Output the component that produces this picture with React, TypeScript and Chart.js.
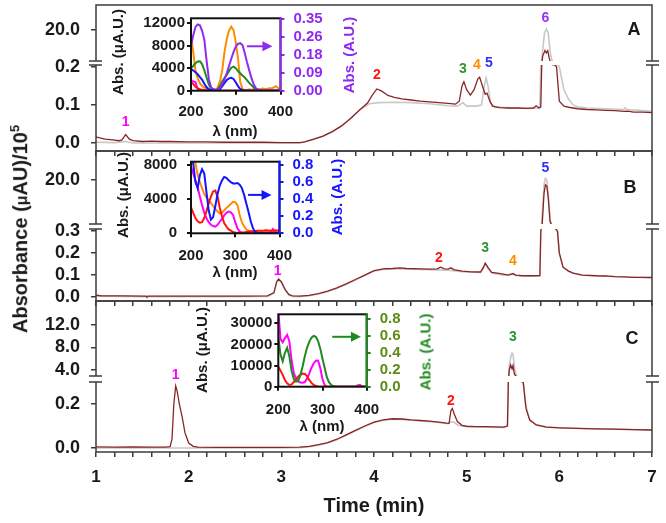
import React, { useEffect, useRef } from 'react';
import { Chart, registerables, LinearScale } from 'chart.js';

Chart.register(...registerables);

const W = 666, H = 523;
const FONT = '"Liberation Sans", Arial, Helvetica, sans-serif';
const BROWN = '#8b2525';
const GRAY = '#c8c8c8';
const FRAME = '#3c3c3c';
const INK = '#1a1a1a';
const MAGENTA = '#ff00ff', RED = '#ff1414', GREEN = '#2e962e', ORANGE = '#ff8c00', BLUE = '#2f2fff', PURPLE = '#9433ff';
const IN_GREEN = '#1f8a1f', IN_BLUE = '#1414ff', IN_PURPLE = '#8f2bef', C_TICK = '#5c8c14';

// ---------- chromatograms: [time (min), absorbance] ----------
const brownA: [number, number][] = [
  [1.00,0.016],[1.05,0.013],[1.10,0.010],[1.18,0.008],[1.25,0.006],[1.28,0.008],[1.32,0.022],[1.36,0.010],[1.40,0.006],
  [1.50,0.004],[1.60,0.005],[1.70,0.004],[1.80,0.004],[2.00,0.003],[2.20,0.003],[2.40,0.002],[2.60,0.002],[2.80,0.002],
  [3.00,0.001],[3.20,0.001],[3.25,0.003],[3.35,0.010],[3.45,0.018],[3.55,0.030],[3.65,0.045],[3.75,0.065],[3.85,0.088],
  [3.93,0.105],[3.98,0.125],[4.03,0.142],[4.08,0.137],[4.15,0.125],[4.22,0.120],[4.30,0.116],[4.40,0.113],[4.50,0.110],
  [4.60,0.108],[4.70,0.106],[4.80,0.104],[4.88,0.102],[4.92,0.110],[4.95,0.150],[4.97,0.161],[5.00,0.140],[5.04,0.126],
  [5.08,0.140],[5.12,0.168],[5.14,0.173],[5.17,0.150],[5.20,0.128],[5.22,0.131],[5.25,0.110],[5.28,0.097],[5.35,0.093],
  [5.45,0.092],[5.55,0.092],[5.65,0.091],[5.72,0.092],[5.75,0.098],[5.78,0.092],[5.80,0.095],[5.81,1.0],[5.82,11.5],
  [5.845,13.4],[5.86,12.6],[5.875,13.3],[5.89,11.0],[5.91,3.0],[5.93,0.8],[5.95,0.35],[5.97,0.2],[6.00,0.11],[6.05,0.097],
  [6.10,0.094],[6.20,0.090],[6.30,0.088],[6.40,0.087],[6.50,0.086],[6.60,0.085],[6.70,0.083],[6.74,0.084],[6.80,0.081],
  [6.90,0.081],[7.00,0.080],
];
const grayA: [number, number][] = [
  [1.00,0.002],[1.20,0.001],[1.32,0.004],[1.40,0.0],[1.60,0.0],[2.00,0.0],[2.40,0.0],[2.80,0.0],[3.20,0.0],[3.30,0.006],
  [3.45,0.018],[3.55,0.030],[3.65,0.045],[3.75,0.065],[3.85,0.088],[3.95,0.103],[4.05,0.106],[4.20,0.107],[4.40,0.106],
  [4.60,0.103],[4.80,0.098],[4.90,0.097],[4.96,0.106],[5.00,0.097],[5.10,0.097],[5.16,0.100],[5.19,0.150],[5.21,0.171],
  [5.23,0.150],[5.26,0.105],[5.30,0.095],[5.50,0.092],[5.70,0.091],[5.79,0.092],[5.80,0.2],[5.815,12],[5.84,19],
  [5.86,20.3],[5.88,19],[5.905,12],[5.93,4],[5.96,1],[5.99,0.3],[6.00,0.2],[6.05,0.14],[6.10,0.115],[6.15,0.100],
  [6.20,0.095],[6.30,0.092],[6.50,0.090],[6.70,0.088],[6.71,0.093],[6.73,0.088],[6.90,0.085],[7.00,0.083],
];
const brownB: [number, number][] = [
  [1.00,0.009],[1.05,0.006],[1.10,0.005],[1.30,0.005],[1.50,0.004],[1.54,0.004],[1.55,0.0],[1.56,0.004],[1.70,0.004],
  [1.90,0.004],[2.20,0.004],[2.50,0.004],[2.60,0.004],[2.85,0.005],[2.92,0.020],[2.95,0.070],[2.97,0.082],[3.00,0.070],
  [3.04,0.035],[3.08,0.012],[3.12,0.005],[3.20,0.004],[3.30,0.008],[3.40,0.016],[3.50,0.027],[3.60,0.042],[3.70,0.060],
  [3.80,0.080],[3.90,0.100],[4.00,0.120],[4.10,0.128],[4.20,0.130],[4.28,0.133],[4.35,0.130],[4.50,0.128],[4.60,0.127],
  [4.68,0.128],[4.72,0.136],[4.76,0.128],[4.80,0.127],[4.83,0.133],[4.86,0.125],[4.95,0.118],[5.05,0.115],[5.15,0.114],
  [5.18,0.135],[5.20,0.155],[5.23,0.135],[5.27,0.112],[5.35,0.108],[5.45,0.100],[5.50,0.107],[5.53,0.100],[5.60,0.097],
  [5.70,0.097],[5.79,0.098],[5.80,0.3],[5.815,10],[5.835,17],[5.85,18.9],[5.865,18.6],[5.88,16],[5.90,10.5],[5.93,3],
  [5.96,0.8],[5.98,0.3],[6.00,0.2],[6.04,0.136],[6.10,0.118],[6.15,0.109],[6.25,0.100],[6.40,0.097],[6.50,0.096],
  [6.60,0.093],[6.70,0.092],[6.80,0.090],[6.90,0.090],[7.00,0.089],
];
const grayB: [number, number][] = [
  [1.00,0.004],[1.50,0.002],[2.00,0.002],[2.50,0.002],[2.85,0.003],[2.92,0.018],[2.95,0.068],[2.97,0.080],[3.00,0.068],
  [3.04,0.033],[3.08,0.010],[3.12,0.003],[3.20,0.002],[3.30,0.006],[3.40,0.014],[3.50,0.025],[3.60,0.040],[3.70,0.058],
  [3.80,0.078],[3.90,0.098],[4.00,0.118],[4.10,0.126],[4.20,0.128],[4.35,0.128],[4.50,0.126],[4.70,0.124],[4.80,0.122],
  [4.95,0.116],[5.05,0.113],[5.15,0.112],[5.18,0.130],[5.20,0.150],[5.23,0.130],[5.27,0.110],[5.40,0.100],[5.50,0.104],
  [5.53,0.098],[5.70,0.095],[5.79,0.096],[5.80,0.3],[5.815,12],[5.835,19],[5.85,20.4],[5.865,20],[5.88,17],[5.90,11],
  [5.93,3],[5.96,0.8],[5.98,0.3],[6.00,0.2],[6.04,0.135],[6.10,0.117],[6.15,0.108],[6.25,0.099],[6.50,0.095],
  [6.70,0.091],[7.00,0.088],
];
const brownC: [number, number][] = [
  [1.00,0.005],[1.20,0.004],[1.40,0.005],[1.60,0.004],[1.75,0.004],[1.80,0.006],[1.82,0.040],[1.84,0.200],[1.86,0.282],
  [1.875,0.260],[1.90,0.200],[1.93,0.140],[1.96,0.070],[2.00,0.023],[2.05,0.008],[2.10,0.004],[2.30,0.003],[2.50,0.003],
  [2.80,0.003],[3.00,0.003],[3.20,0.004],[3.30,0.008],[3.40,0.015],[3.50,0.025],[3.60,0.040],[3.70,0.060],[3.80,0.080],
  [3.90,0.100],[4.00,0.118],[4.10,0.128],[4.20,0.133],[4.30,0.132],[4.40,0.128],[4.50,0.125],[4.60,0.122],[4.70,0.118],
  [4.78,0.113],[4.81,0.112],[4.83,0.170],[4.845,0.180],[4.87,0.150],[4.90,0.120],[4.95,0.103],[5.00,0.099],[5.10,0.097],
  [5.20,0.097],[5.30,0.096],[5.40,0.095],[5.44,0.100],[5.45,0.3],[5.46,4],[5.475,4.9],[5.49,4.2],[5.50,4.8],[5.515,3.3],
  [5.55,1.5],[5.58,0.6],[5.61,0.3],[5.64,0.18],[5.68,0.127],[5.75,0.105],[5.86,0.095],[6.00,0.092],[6.20,0.089],
  [6.40,0.087],[6.58,0.086],[6.80,0.084],[7.00,0.082],
];
const grayC: [number, number][] = [
  [1.00,0.0],[2.00,0.0],[3.00,0.0],[3.20,0.002],[3.30,0.006],[3.40,0.013],[3.50,0.023],[3.60,0.038],[3.70,0.058],
  [3.80,0.078],[3.90,0.098],[4.00,0.116],[4.10,0.126],[4.20,0.131],[4.30,0.130],[4.40,0.126],[4.50,0.123],[4.60,0.120],
  [4.70,0.116],[4.80,0.111],[4.83,0.120],[4.86,0.118],[4.90,0.105],[4.95,0.100],[5.00,0.097],[5.20,0.095],[5.40,0.094],
  [5.44,0.100],[5.45,0.3],[5.46,5],[5.48,6.6],[5.49,7.0],[5.50,6.8],[5.52,4],[5.55,1.8],[5.58,0.7],[5.61,0.32],
  [5.64,0.19],[5.68,0.13],[5.75,0.106],[5.86,0.096],[6.00,0.092],[6.20,0.089],[6.60,0.086],[7.00,0.082],
];

const yTicksA = [0, 0.1, 0.2, 20];
const yTicksB = [0, 0.1, 0.2, 0.3, 20];
const yTicksC = [0, 0.2, 4, 8, 12];
const timeLabels = [1, 2, 3, 4, 5, 6, 7];

// peak number annotations: anchored on the peak (time, value), offset upward
const peaksA = [
  { t: 1.32, v: 0.022, dy: -12, text: '1', color: MAGENTA },
  { t: 4.03, v: 0.142, dy: -14, text: '2', color: RED },
  { t: 4.96, v: 0.161, dy: -13, text: '3', color: GREEN },
  { t: 5.11, v: 0.173, dy: -12, text: '4', color: ORANGE },
  { t: 5.24, v: 0.171, dy: -15, text: '5', color: BLUE },
  { t: 5.85, v: 20, dy: -12, text: '6', color: PURPLE },
];
const peaksB = [
  { t: 2.96, v: 0.082, dy: -8, text: '1', color: MAGENTA },
  { t: 4.70, v: 0.136, dy: -9, text: '2', color: RED },
  { t: 5.20, v: 0.155, dy: -15, text: '3', color: GREEN },
  { t: 5.50, v: 0.107, dy: -12, text: '4', color: ORANGE },
  { t: 5.85, v: 20, dy: -12, text: '5', color: BLUE },
];
const peaksC = [
  { t: 1.86, v: 0.282, dy: -11, text: '1', color: MAGENTA },
  { t: 4.83, v: 0.18, dy: -7, text: '2', color: RED },
  { t: 5.50, v: 7.0, dy: -16, text: '3', color: GREEN },
];

// ---------- UV spectra (insets) ----------
const lambda = [200,205,210,215,220,225,230,235,240,245,250,255,260,265,270,275,280,285,290,295,300,
  305,310,315,320,325,330,335,340,345,350,355,360,365,370,375,380,385,390,395,400];

const orangeA = [9600,6900,3600,2200,1300,850,550,300,150,60,50,150,600,1800,3700,7000,9200,10700,11400,10800,8700,
  5800,1600,300,100,150,250,150,300,200,300,250,400,300,350,450,400,600,800,450,300];
const greenA = [4000,4400,4900,5200,5250,4700,3600,2300,1100,400,150,100,300,900,1700,2300,2800,3500,4100,4300,4000,
  3500,3100,2700,2350,1900,1400,1000,600,250,80,30,0,0,0,0,0,0,0,0,0];
const blueA = [3860,3600,3300,2900,2400,1950,1200,600,250,80,0,0,50,300,800,1400,1900,2200,2300,2100,1500,
  800,300,100,30,0,0,0,0,0,0,0,0,0,0,0,0,0,0,0,0];
const redA = [1500,1200,700,400,250,150,100,60,40,30,20,20,0,0,0,0,0,0,0,0,0,
  0,0,0,0,0,0,0,0,0,0,0,0,0,0,0,0,0,0,0,0];
const magentaA = [1700,1700,1500,300,80,0,0,0,0,0,0,0,0,0,0,0,0,0,0,0,0,
  0,0,0,0,0,0,0,0,0,0,0,0,0,0,0,0,0,0,0,0];
const purpleA = [0.214,0.27,0.31,0.322,0.318,0.29,0.245,0.143,0.055,0.015,0.008,0.005,0.005,0.015,0.032,0.055,0.086,0.12,0.155,0.188,0.214,
  0.228,0.231,0.222,0.185,0.14,0.1,0.062,0.032,0.012,0.005,0,0,0,0,0,0,0,0,0,0];

const blueB = [0.84,0.82,0.6,0.53,0.68,0.75,0.7,0.48,0.27,0.16,0.19,0.32,0.46,0.56,0.62,0.66,0.65,0.62,0.6,0.585,0.585,
  0.59,0.57,0.53,0.45,0.35,0.25,0.14,0.06,0.015,0.005,0,0,0,0,0,0,0,0,0,0];
const orangeB = [9000,8800,8200,6900,6000,5300,4600,4200,3850,3550,3200,2850,2550,2340,2400,2700,2950,3200,3450,3700,3650,
  3300,2150,1300,800,470,300,200,200,220,250,230,250,240,260,250,270,300,260,250,250];
const magentaB = [7800,7000,6200,5400,4300,3300,2400,1750,1300,1000,850,780,1000,1350,1700,2100,2400,2550,2450,2150,1300,
  600,200,50,0,0,0,0,0,0,0,0,0,0,0,0,150,500,100,0,0];
const redB = [3040,2400,1800,1400,1250,1300,1800,2600,3500,4300,4900,5000,4300,3000,2000,1200,800,450,300,150,80,
  50,50,80,100,150,200,230,250,270,300,300,300,320,350,330,300,320,350,330,300];

const greenC = [0.59,0.38,0.3,0.4,0.46,0.36,0.19,0.09,0.06,0.067,0.14,0.24,0.36,0.46,0.53,0.58,0.6,0.59,0.54,0.45,0.33,
  0.22,0.11,0.05,0.02,0.005,0,0,0,0,0,0,0,0,0,0,0,0,0,0,0];
const magentaC = [36000,22500,21000,23000,24500,21500,12500,6500,3800,2500,2000,1900,2200,3800,6200,9000,11000,12300,12400,8800,3500,
  800,100,0,0,0,0,0,0,0,0,0,0,0,0,0,700,800,100,0,0];
const redC = [9500,7600,5600,3200,1600,800,1100,2200,3600,4800,5600,6200,6000,5000,3200,1800,900,350,100,0,0,
  0,0,0,0,0,0,0,0,0,0,0,0,0,0,0,0,400,0,0,0];

const insetXTicks = [200, 300, 400];
const leftTicksA = [0, 4000, 8000, 12000];
const leftTicksB = [0, 4000, 8000];
const leftTicksC = [0, 10000, 20000, 30000];
const rightTicksA = [0, 0.0875, 0.175, 0.2625, 0.35];
const rightLabelsA = ['0.00', '0.09', '0.18', '0.26', '0.35'];
const rightTicksBC = [0, 0.2, 0.4, 0.6, 0.8];

// ---------- broken (two-segment) y scale ----------
type Brk = { lowMin: number; lowMax: number; highMin: number; highMax: number; lowPx: number; gapPx: number };

function makeBrokenScale(id: string, b: Brk) {
  const Cls: any = class extends (LinearScale as any) {
    getPixelForValue(v: any) {
      if (v === null || v === undefined || Number.isNaN(v)) return NaN;
      const self: any = this;
      const bottom = self.bottom, top = self.top;
      const lowTop = bottom - b.lowPx;
      const highBot = lowTop - b.gapPx;
      if (v <= b.lowMax) return bottom - ((v - b.lowMin) / (b.lowMax - b.lowMin)) * b.lowPx;
      if (v >= b.highMin) return highBot - ((v - b.highMin) / (b.highMax - b.highMin)) * (highBot - top);
      return lowTop - ((v - b.lowMax) / (b.highMin - b.lowMax)) * b.gapPx;
    }
    getValueForPixel(p: number) {
      const self: any = this;
      const bottom = self.bottom, top = self.top;
      const lowTop = bottom - b.lowPx;
      const highBot = lowTop - b.gapPx;
      if (p >= lowTop) return b.lowMin + ((bottom - p) / b.lowPx) * (b.lowMax - b.lowMin);
      if (p <= highBot) return b.highMin + ((highBot - p) / (highBot - top)) * (b.highMax - b.highMin);
      return b.lowMax + ((lowTop - p) / b.gapPx) * (b.highMin - b.lowMax);
    }
  };
  Cls.id = id;
  Cls.defaults = {};
  return Cls;
}

const brkA: Brk = { lowMin: -0.021, lowMax: 0.205, highMin: 10, highMax: 28, lowPx: 86, gapPx: 4 };
const brkB: Brk = { lowMin: -0.018, lowMax: 0.31, highMin: 10, highMax: 26.6, lowPx: 72, gapPx: 5 };
const brkC: Brk = { lowMin: -0.018, lowMax: 0.30, highMin: 2.93, highMax: 16.27, lowPx: 70, gapPx: 6 };

Chart.register(makeBrokenScale('brokenA', brkA), makeBrokenScale('brokenB', brkB), makeBrokenScale('brokenC', brkC));

const xy = (pairs: [number, number][]) => pairs.map(([x, y]) => ({ x, y }));
const xyL = (vals: number[]) => vals.map((y, i) => ({ x: lambda[i], y }));

function framePlugin(brk: Brk) {
  return {
    id: 'frame',
    afterDraw(chart: any) {
      const { ctx, chartArea: a } = chart;
      const ys = chart.scales.y;
      ctx.save();
      ctx.strokeStyle = FRAME;
      ctx.lineWidth = 1.5;
      ctx.strokeRect(a.left, a.top, a.right - a.left, a.bottom - a.top);
      const gBot = ys.getPixelForValue(brk.lowMax);
      const gTop = ys.getPixelForValue(brk.highMin);
      ctx.clearRect(a.left - 8, gTop, a.right - a.left + 16, gBot - gTop);
      ctx.beginPath();
      for (const y of [gTop, gBot]) {
        ctx.moveTo(a.left - 7, y); ctx.lineTo(a.left + 6, y);
        ctx.moveTo(a.right - 6, y); ctx.lineTo(a.right + 7, y);
      }
      ctx.stroke();
      ctx.restore();
    },
  };
}

function peakPlugin(labels: { t: number; v: number; dy: number; text: string; color: string }[]) {
  return {
    id: 'peaks',
    afterDraw(chart: any) {
      const { ctx } = chart;
      ctx.save();
      ctx.font = `bold 14px ${FONT}`;
      ctx.textAlign = 'center';
      ctx.textBaseline = 'middle';
      for (const l of labels) {
        const x = chart.scales.x.getPixelForValue(l.t);
        const y = chart.scales.y.getPixelForValue(l.v) + l.dy;
        ctx.fillStyle = l.color;
        ctx.fillText(l.text, x, y);
      }
      ctx.restore();
    },
  };
}

function insetFramePlugin(color: string, arrow: { from: number; to: number; v: number }) {
  return {
    id: 'insetFrame',
    afterDraw(chart: any) {
      const { ctx, chartArea: a } = chart;
      ctx.save();
      ctx.lineWidth = 2;
      ctx.strokeStyle = '#111';
      ctx.strokeRect(a.left, a.top, a.right - a.left, a.bottom - a.top);
      ctx.strokeStyle = color;
      ctx.beginPath();
      ctx.moveTo(a.right, a.top - 1);
      ctx.lineTo(a.right, a.bottom + 1);
      ctx.stroke();
      const x1 = chart.scales.x.getPixelForValue(arrow.from);
      const x2 = chart.scales.x.getPixelForValue(arrow.to);
      const y = chart.scales.y2.getPixelForValue(arrow.v);
      ctx.beginPath();
      ctx.moveTo(x1, y);
      ctx.lineTo(x2 - 8, y);
      ctx.stroke();
      ctx.fillStyle = color;
      ctx.beginPath();
      ctx.moveTo(x2, y);
      ctx.lineTo(x2 - 10, y - 5);
      ctx.lineTo(x2 - 10, y + 5);
      ctx.closePath();
      ctx.fill();
      ctx.restore();
    },
  };
}

const baseOpts = {
  animation: false,
  responsive: false,
  maintainAspectRatio: false,
  devicePixelRatio: 1,
  events: [],
  plugins: { legend: { display: false }, tooltip: { enabled: false } },
};

type Panel = {
  typeId: string; brk: Brk; brown: [number, number][]; gray: [number, number][]; yTicks: number[];
  labels: any[]; top: number; bottom: number; xh: number; showX: boolean;
};

const panels: Panel[] = [
  { typeId: 'brokenA', brk: brkA, brown: brownA, gray: grayA, yTicks: yTicksA, labels: peaksA, top: 5, bottom: 151, xh: 10, showX: false },
  { typeId: 'brokenB', brk: brkB, brown: brownB, gray: grayB, yTicks: yTicksB, labels: peaksB, top: 151, bottom: 301, xh: 10, showX: false },
  { typeId: 'brokenC', brk: brkC, brown: brownC, gray: grayC, yTicks: yTicksC, labels: peaksC, top: 301, bottom: 452, xh: 34, showX: true },
];

function panelConfig(p: Panel): any {
  const xTicks: number[] = [];
  for (let i = 0; i <= 30; i++) xTicks.push(Math.round((1 + i * 0.2) * 10) / 10);
  return {
    type: 'line',
    data: {
      datasets: [
        { data: xy(p.brown), borderColor: BROWN, borderWidth: 1.3, pointRadius: 0, tension: 0, fill: false },
        { data: xy(p.gray), borderColor: GRAY, borderWidth: 1.6, pointRadius: 0, tension: 0, fill: false },
      ],
    },
    options: {
      ...baseOpts,
      layout: { padding: { left: 0, right: 14, top: p.top, bottom: H - p.bottom - p.xh } },
      scales: {
        x: {
          type: 'linear', min: 1, max: 7, position: 'bottom',
          afterBuildTicks: (s: any) => { s.ticks = xTicks.map((v) => ({ value: v })); },
          afterFit: (s: any) => { s.height = p.xh; s.paddingLeft = 0; s.paddingRight = 0; },
          ticks: {
            autoSkip: false, maxRotation: 0, padding: 10, color: INK,
            font: { family: FONT, size: 17, weight: 'bold' },
            callback: (v: any) => {
              const n = Math.round(Number(v));
              return p.showX && Math.abs(Number(v) - n) < 1e-6 && timeLabels.includes(n) ? String(n) : '';
            },
          },
          grid: { drawOnChartArea: false, drawTicks: true, tickLength: 5, color: FRAME, lineWidth: 1.5 },
          border: { display: false },
        },
        y: {
          type: p.typeId, min: p.brk.lowMin, max: p.brk.highMax, position: 'left',
          afterBuildTicks: (s: any) => { s.ticks = p.yTicks.map((v) => ({ value: v })); },
          afterFit: (s: any) => { s.width = 96; s.paddingTop = 0; s.paddingBottom = 0; },
          ticks: {
            autoSkip: false, padding: 11, color: INK,
            font: { family: FONT, size: 18, weight: 'bold' },
            callback: (v: any) => Number(v).toFixed(1),
          },
          grid: { drawOnChartArea: false, drawTicks: true, tickLength: 5, color: FRAME, lineWidth: 1.5 },
          border: { display: false },
        },
      },
    },
    plugins: [framePlugin(p.brk), peakPlugin(p.labels)],
  };
}

type Inset = {
  left: number; right: number; top: number; bottom: number;
  yMax: number; y2Max: number; leftTicks: number[]; rightTicks: number[]; rightLabel: (v: number, i: number) => string;
  leftPad: number; xPad: number; rightColor: string; rightTickColor: string;
  series: { vals: number[]; color: string; axis: string }[];
  arrow: { from: number; to: number; v: number };
};

const insets: Inset[] = [
  {
    left: 191, right: 280.5, top: 18.3, bottom: 90.7, yMax: 12890, y2Max: 0.352,
    leftTicks: leftTicksA, rightTicks: rightTicksA, rightLabel: (_v, i) => rightLabelsA[i],
    leftPad: 2, xPad: 8, rightColor: IN_PURPLE, rightTickColor: IN_PURPLE,
    series: [
      { vals: purpleA, color: IN_PURPLE, axis: 'y2' },
      { vals: blueA, color: IN_BLUE, axis: 'y' },
      { vals: greenA, color: IN_GREEN, axis: 'y' },
      { vals: redA, color: RED, axis: 'y' },
      { vals: magentaA, color: MAGENTA, axis: 'y' },
      { vals: orangeA, color: ORANGE, axis: 'y' },
    ],
    arrow: { from: 325, to: 382, v: 0.216 },
  },
  {
    left: 191, right: 279.5, top: 161.7, bottom: 233.3, yMax: 8387, y2Max: 0.839,
    leftTicks: leftTicksB, rightTicks: rightTicksBC, rightLabel: (v) => Number(v).toFixed(1),
    leftPad: 10, xPad: 10, rightColor: IN_BLUE, rightTickColor: IN_BLUE,
    series: [
      { vals: blueB, color: IN_BLUE, axis: 'y2' },
      { vals: redB, color: RED, axis: 'y' },
      { vals: magentaB, color: MAGENTA, axis: 'y' },
      { vals: orangeB, color: ORANGE, axis: 'y' },
    ],
    arrow: { from: 329, to: 382, v: 0.45 },
  },
  {
    left: 278.3, right: 366.7, top: 314.3, bottom: 386.7, yMax: 34260, y2Max: 0.856,
    leftTicks: leftTicksC, rightTicks: rightTicksBC, rightLabel: (v) => Number(v).toFixed(1),
    leftPad: 2, xPad: 10, rightColor: IN_GREEN, rightTickColor: C_TICK,
    series: [
      { vals: greenC, color: IN_GREEN, axis: 'y2' },
      { vals: redC, color: RED, axis: 'y' },
      { vals: magentaC, color: MAGENTA, axis: 'y' },
    ],
    arrow: { from: 322, to: 387, v: 0.59 },
  },
];

function insetConfig(s: Inset): any {
  const tickFont = { family: FONT, size: 15, weight: 'bold' };
  return {
    type: 'line',
    data: {
      datasets: s.series.map((d) => ({
        data: xyL(d.vals), borderColor: d.color, borderWidth: 2, pointRadius: 0, tension: 0, fill: false, yAxisID: d.axis,
      })),
    },
    options: {
      ...baseOpts,
      layout: { padding: { left: 0, right: 0, top: s.top, bottom: H - s.bottom - 30 } },
      scales: {
        x: {
          type: 'linear', min: 200, max: 400, position: 'bottom',
          afterBuildTicks: (sc: any) => { sc.ticks = insetXTicks.map((v) => ({ value: v })); },
          afterFit: (sc: any) => { sc.height = 30; sc.paddingLeft = 0; sc.paddingRight = 0; },
          ticks: { autoSkip: false, maxRotation: 0, padding: s.xPad, color: INK, font: tickFont, callback: (v: any) => String(v) },
          grid: { drawOnChartArea: false, tickLength: 4, color: '#111', lineWidth: 2 },
          border: { display: false },
        },
        y: {
          type: 'linear', min: 0, max: s.yMax, position: 'left',
          afterBuildTicks: (sc: any) => { sc.ticks = s.leftTicks.map((v) => ({ value: v })); },
          afterFit: (sc: any) => { sc.width = s.left; sc.paddingTop = 0; sc.paddingBottom = 0; },
          ticks: { autoSkip: false, padding: s.leftPad, color: INK, font: tickFont, callback: (v: any) => String(v) },
          grid: { drawOnChartArea: false, tickLength: 4, color: '#111', lineWidth: 2 },
          border: { display: false },
        },
        y2: {
          type: 'linear', min: 0, max: s.y2Max, position: 'right',
          afterBuildTicks: (sc: any) => { sc.ticks = s.rightTicks.map((v) => ({ value: v })); },
          afterFit: (sc: any) => { sc.width = W - s.right; sc.paddingTop = 0; sc.paddingBottom = 0; },
          ticks: { autoSkip: false, padding: 9, color: s.rightTickColor, font: tickFont, callback: (v: any, i: number) => s.rightLabel(v, i) },
          grid: { drawOnChartArea: false, tickLength: 4, color: s.rightColor, lineWidth: 2 },
          border: { display: false },
        },
      },
    },
    plugins: [insetFramePlugin(s.rightColor, s.arrow)],
  };
}

function Txt(props: { x: number; y: number; rot?: number; color?: string; size?: number; children: any }) {
  const { x, y, rot = 0, color = INK, size = 15, children } = props;
  return (
    <div
      style={{
        position: 'absolute', left: x, top: y,
        transform: `translate(-50%, -50%) rotate(${rot}deg)`,
        color, fontSize: size, fontWeight: 700, fontFamily: FONT,
        whiteSpace: 'nowrap', lineHeight: 1,
      }}
    >
      {children}
    </div>
  );
}

export default function App() {
  const r0 = useRef<HTMLCanvasElement>(null);
  const r1 = useRef<HTMLCanvasElement>(null);
  const r2 = useRef<HTMLCanvasElement>(null);
  const r3 = useRef<HTMLCanvasElement>(null);
  const r4 = useRef<HTMLCanvasElement>(null);
  const r5 = useRef<HTMLCanvasElement>(null);
  const refs = [r0, r1, r2, r3, r4, r5];

  useEffect(() => {
    const cfgs = [...panels.map(panelConfig), ...insets.map(insetConfig)];
    const charts = cfgs.map((c, i) => new Chart(refs[i].current as HTMLCanvasElement, c));
    return () => charts.forEach((c) => c.destroy());
  }, []);

  return (
    <div style={{ position: 'absolute', left: 0, top: 0, width: W, height: H, background: '#fff', overflow: 'hidden' }}>
      {refs.map((r, i) => (
        <canvas key={i} ref={r} width={W} height={H} style={{ position: 'absolute', left: 0, top: 0, width: W, height: H }} />
      ))}
      <Txt x={19} y={229} rot={-90} size={20}>
        Absorbance (<span style={{ fontSize: 16 }}>μ</span>AU)/10<sup style={{ fontSize: 13 }}>5</sup>
      </Txt>
      <Txt x={374} y={505} size={20}>Time (min)</Txt>
      <Txt x={634} y={29} size={18}>A</Txt>
      <Txt x={630} y={187} size={18}>B</Txt>
      <Txt x={632} y={338} size={18}>C</Txt>

      <Txt x={117} y={52} rot={-90}>Abs. (μA.U.)</Txt>
      <Txt x={348} y={55} rot={-90} color={IN_PURPLE}>Abs. (A.U.)</Txt>
      <Txt x={235} y={130}>λ (nm)</Txt>

      <Txt x={122} y={195} rot={-90}>Abs. (μA.U.)</Txt>
      <Txt x={336} y={197} rot={-90} color={IN_BLUE}>Abs. (A.U.)</Txt>
      <Txt x={235} y={271}>λ (nm)</Txt>

      <Txt x={201} y={350} rot={-90}>Abs. (μA.U.)</Txt>
      <Txt x={425} y={352} rot={-90} color={IN_GREEN}>Abs. (A.U.)</Txt>
      <Txt x={322} y={425}>λ (nm)</Txt>
    </div>
  );
}
